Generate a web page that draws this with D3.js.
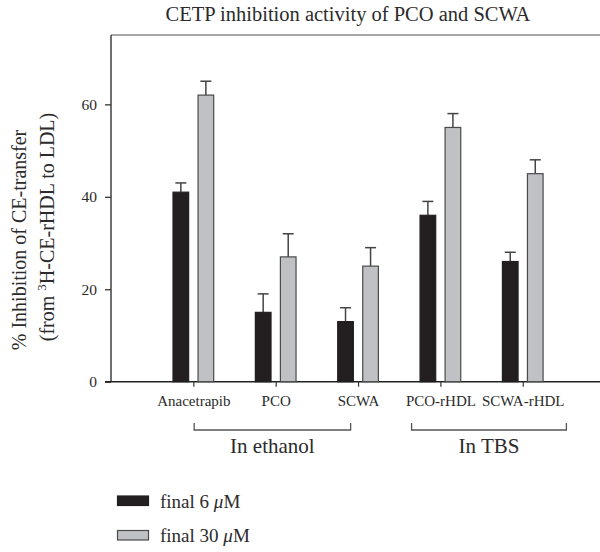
<!DOCTYPE html>
<html>
<head>
<meta charset="utf-8">
<script src="https://cdn.jsdelivr.net/npm/d3@7"></script>
<style>
  body { margin: 0; background: #fff; }
  text { font-family: "Liberation Serif", "DejaVu Serif", serif; fill: #2b2b2b; }
</style>
</head>
<body>
<svg id="chart" width="600" height="552"></svg>
<script>
// data
var categories = ['Anacetrapib', 'PCO', 'SCWA', 'PCO-rHDL', 'SCWA-rHDL'];
var low_dose = [41, 15, 13, 36, 26];      // final 6 uM
var low_err = [2, 4, 3, 3, 2];
var high_dose = [62, 27, 25, 55, 45];     // final 30 uM
var high_err = [3, 5, 4, 3, 3];
var yTicks = [0, 20, 40, 60];
var groups = [
  {label: 'In ethanol', from: 0.01, to: 1.91},
  {label: 'In TBS', from: 2.65, to: 4.53}
];
var legendItems = [
  {label: 'final 6 ', fill: '#231f20', stroke: '#231f20'},
  {label: 'final 30 ', fill: '#c0c1c5', stroke: '#4a4a4a'}
];

var svg = d3.select('#chart');
var padL = 111, padT = 35, baseY = 381.7, padR = 600;

var x = d3.scaleLinear().domain([-1, 5]).range([padL, padL + 82.35 * 6]);
var y = d3.scaleLinear().domain([0, 75]).range([baseY, padT]);
var barW = x(0.19) - x(0);
var off = 0.152;

// frame: top line
svg.append('line')
  .attr('x1', padL).attr('x2', padR).attr('y1', padT).attr('y2', padT)
  .attr('stroke', '#8a8a8a').attr('stroke-width', 1.6);

// y axis
var yAxis = d3.axisLeft(y).tickValues(yTicks).tickSize(6).tickPadding(8);
var gy = svg.append('g').attr('transform', 'translate(' + padL + ',0)').call(yAxis);
gy.select('.domain').attr('stroke', '#333').attr('stroke-width', 1.4).attr('d', 'M0,' + padT + 'V' + baseY);
gy.selectAll('.tick line').attr('stroke', '#333').attr('stroke-width', 1.3);
gy.selectAll('.tick text').attr('font-size', 15.5).attr('font-family', 'Liberation Serif').attr('fill', '#333');

// x axis
var xAxis = d3.axisBottom(x).tickValues(d3.range(categories.length)).tickSize(5).tickPadding(9)
  .tickFormat(function(i){ return categories[i]; });
var gx = svg.append('g').attr('transform', 'translate(0,' + baseY + ')').call(xAxis);
gx.select('.domain').attr('stroke', '#222').attr('stroke-width', 1.4).attr('d', 'M' + (padL - 6) + ',0H' + padR);
gx.selectAll('.tick line').attr('stroke', '#333').attr('stroke-width', 1.2);
gx.selectAll('.tick text').attr('font-size', 15).attr('font-family', 'Liberation Serif').attr('fill', '#333');

// bars
var series = [
  {vals: low_dose, err: low_err, dx: -off, fill: '#231f20', stroke: '#231f20'},
  {vals: high_dose, err: high_err, dx: off, fill: '#c0c1c5', stroke: '#4a4a4a'}
];
series.forEach(function(s){
  var g = svg.append('g');
  g.selectAll('line.err').data(s.vals).enter().append('line')
    .attr('x1', function(d, i){ return x(i + s.dx); })
    .attr('x2', function(d, i){ return x(i + s.dx); })
    .attr('y1', function(d){ return y(d); })
    .attr('y2', function(d, i){ return y(d + s.err[i]); })
    .attr('stroke', '#444').attr('stroke-width', 1.5);
  g.selectAll('line.cap').data(s.vals).enter().append('line')
    .attr('x1', function(d, i){ return x(i + s.dx) - 5.5; })
    .attr('x2', function(d, i){ return x(i + s.dx) + 5.5; })
    .attr('y1', function(d, i){ return y(d + s.err[i]); })
    .attr('y2', function(d, i){ return y(d + s.err[i]); })
    .attr('stroke', '#444').attr('stroke-width', 1.5);
  g.selectAll('rect').data(s.vals).enter().append('rect')
    .attr('x', function(d, i){ return x(i + s.dx) - barW / 2; })
    .attr('width', barW)
    .attr('y', function(d){ return y(d); })
    .attr('height', function(d){ return y(0) - y(d); })
    .attr('fill', s.fill).attr('stroke', s.stroke).attr('stroke-width', 1.2);
});

// group brackets
groups.forEach(function(gr){
  var x1 = x(gr.from), x2 = x(gr.to);
  svg.append('path')
    .attr('d', 'M' + x1 + ',423V430H' + x2 + 'V423')
    .attr('fill', 'none').attr('stroke', '#555').attr('stroke-width', 1.3);
  svg.append('text')
    .attr('x', (x1 + x2) / 2).attr('y', 453)
    .attr('text-anchor', 'middle').attr('font-size', 21)
    .text(gr.label);
});

// title
svg.append('text')
  .attr('x', 348).attr('y', 21).attr('text-anchor', 'middle')
  .attr('font-size', 20.5)
  .text('CETP inhibition activity of PCO and SCWA');

// y label
var yl = svg.append('text')
  .attr('transform', 'translate(26,240) rotate(-90)')
  .attr('text-anchor', 'middle').attr('font-size', 20);
yl.text('% Inhibition of CE-transfer');
var yl2 = svg.append('text')
  .attr('transform', 'translate(54,227) rotate(-90)')
  .attr('text-anchor', 'middle').attr('font-size', 20);
yl2.append('tspan').text('(from ');
yl2.append('tspan').attr('font-size', 13).attr('dy', -8).text('3');
yl2.append('tspan').attr('dy', 8).text('H-CE-rHDL to LDL)');

// legend
legendItems.forEach(function(it, i){
  var yy = 496 + i * 34.5;
  svg.append('rect').attr('x', 117.5).attr('y', yy).attr('width', 31).attr('height', 9.5)
    .attr('fill', it.fill).attr('stroke', it.stroke).attr('stroke-width', 1.2);
  var t = svg.append('text').attr('x', 160).attr('y', yy + 11.5).attr('font-size', 19);
  t.append('tspan').text(it.label);
  t.append('tspan').attr('font-style', 'italic').text('\u03bc');
  t.append('tspan').text('M');
});
</script>
</body>
</html>
